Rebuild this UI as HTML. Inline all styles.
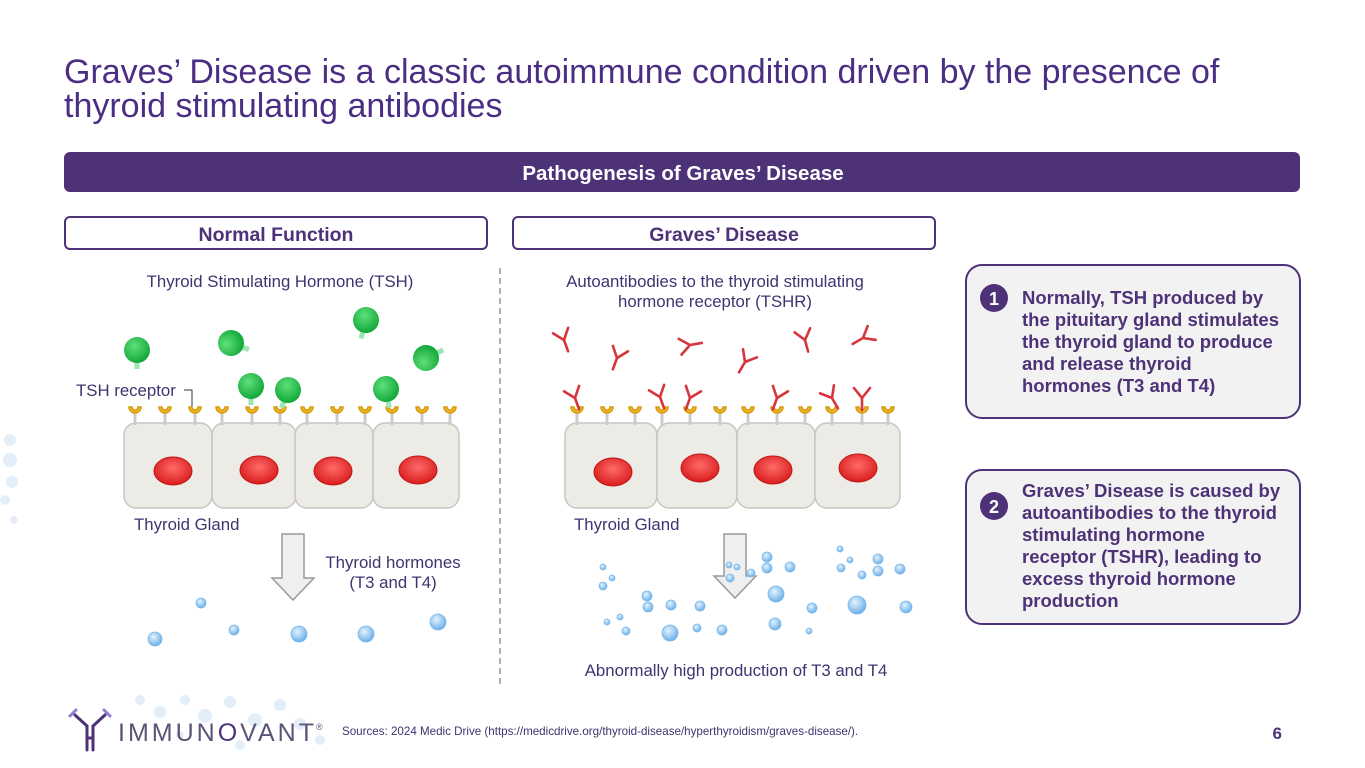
<!DOCTYPE html>
<html><head><meta charset="utf-8"><style>
body{margin:0;background:#fff}
svg{display:block;font-family:"Liberation Sans",Arial,sans-serif}
</style></head><body>
<svg width="1365" height="768" viewBox="0 0 1365 768" xmlns="http://www.w3.org/2000/svg">
<defs>
<radialGradient id="g" cx="40%" cy="35%" r="65%"><stop offset="0" stop-color="#5fe07a"/><stop offset="1" stop-color="#13a83a"/></radialGradient>
<radialGradient id="n" cx="50%" cy="40%" r="60%"><stop offset="0" stop-color="#ff6a6a"/><stop offset="1" stop-color="#d91c1c"/></radialGradient>
<radialGradient id="b" cx="40%" cy="35%" r="65%"><stop offset="0" stop-color="#e4f3ff"/><stop offset="1" stop-color="#6cb0e8"/></radialGradient>
<g id="rec"><line x1="0" y1="0" x2="0" y2="12" stroke="#ccc" stroke-width="3"/><path d="M-6,-6 A6,6 0 0 0 6,-6 L3,-6 A3,3 0 0 1 -3,-6 Z" fill="#f0b820" stroke="#d89a10" stroke-width="1.5"/></g>
<g id="tsh"><rect x="-2.5" y="6" width="5" height="13" fill="#9be6b5"/><circle r="13" fill="url(#g)"/></g>
<g id="ab" stroke="#d8343c" stroke-width="2.6" fill="none" stroke-linecap="round"><path d="M0,12 L0,0 M0,0 L-8,-10 M0,0 L8,-10"/></g>
</defs>
<g fill="#e3eef8">
<circle cx="10" cy="440" r="6"/><circle cx="10" cy="460" r="7"/><circle cx="12" cy="482" r="6"/><circle cx="5" cy="500" r="5"/><circle cx="14" cy="520" r="4"/>
<circle cx="140" cy="700" r="5"/><circle cx="160" cy="712" r="6"/><circle cx="185" cy="700" r="5"/><circle cx="205" cy="716" r="7"/><circle cx="230" cy="702" r="6"/><circle cx="255" cy="720" r="7"/><circle cx="280" cy="705" r="6"/><circle cx="300" cy="724" r="6"/><circle cx="320" cy="740" r="5"/><circle cx="180" cy="735" r="4"/><circle cx="240" cy="745" r="5"/>
</g>
<text x="64" y="83" font-size="34" fill="#4b2e83">Graves’ Disease is a classic autoimmune condition driven by the presence of</text>
<text x="64" y="117" font-size="34" fill="#4b2e83">thyroid stimulating antibodies</text>
<rect x="64" y="152" width="1236" height="40" rx="6" fill="#4e3278"/>
<text x="683" y="180" font-size="20.5" font-weight="bold" fill="#fff" text-anchor="middle">Pathogenesis of Graves’ Disease</text>
<rect x="65" y="217" width="422" height="32" rx="5" fill="#fff" stroke="#4e3278" stroke-width="2"/>
<text x="276" y="241" font-size="19.5" font-weight="bold" fill="#4e3278" text-anchor="middle">Normal Function</text>
<rect x="513" y="217" width="422" height="32" rx="5" fill="#fff" stroke="#4e3278" stroke-width="2"/>
<text x="724" y="241" font-size="19.5" font-weight="bold" fill="#4e3278" text-anchor="middle">Graves’ Disease</text>
<line x1="500" y1="268" x2="500" y2="686" stroke="#999" stroke-width="1.5" stroke-dasharray="6,4"/>
<g font-size="16.8" fill="#3e3470">
<text x="280" y="287" text-anchor="middle">Thyroid Stimulating Hormone (TSH)</text>
<text x="76" y="396">TSH receptor</text>
<text x="134" y="530">Thyroid Gland</text>
<text x="393" y="568" text-anchor="middle">Thyroid hormones</text>
<text x="393" y="588" text-anchor="middle">(T3 and T4)</text>
<text x="715" y="287" text-anchor="middle">Autoantibodies to the thyroid stimulating</text>
<text x="715" y="307" text-anchor="middle">hormone receptor (TSHR)</text>
<text x="574" y="530">Thyroid Gland</text>
<text x="736" y="676" text-anchor="middle">Abnormally high production of T3 and T4</text>
</g>
<path d="M184,390 L192,390 L192,410" stroke="#333" fill="none" stroke-width="1"/>
<g fill="#ecebe6" stroke="#c8c6bf" stroke-width="1.5">
<rect x="124" y="423" width="88" height="85" rx="12"/><rect x="212" y="423" width="84" height="85" rx="12"/><rect x="295" y="423" width="78" height="85" rx="12"/><rect x="373" y="423" width="86" height="85" rx="12"/>
<rect x="565" y="423" width="92" height="85" rx="12"/><rect x="657" y="423" width="80" height="85" rx="12"/><rect x="737" y="423" width="78" height="85" rx="12"/><rect x="815" y="423" width="85" height="85" rx="12"/>
</g>
<g fill="url(#n)" stroke="#c01515">
<ellipse cx="173" cy="471" rx="19" ry="14"/><ellipse cx="259" cy="470" rx="19" ry="14"/><ellipse cx="333" cy="471" rx="19" ry="14"/><ellipse cx="418" cy="470" rx="19" ry="14"/>
<ellipse cx="613" cy="472" rx="19" ry="14"/><ellipse cx="700" cy="468" rx="19" ry="14"/><ellipse cx="773" cy="470" rx="19" ry="14"/><ellipse cx="858" cy="468" rx="19" ry="14"/>
</g>
<g>
<use href="#rec" x="135" y="413"/><use href="#rec" x="165" y="413"/><use href="#rec" x="195" y="413"/><use href="#rec" x="222" y="413"/><use href="#rec" x="252" y="413"/><use href="#rec" x="280" y="413"/><use href="#rec" x="307" y="413"/><use href="#rec" x="337" y="413"/><use href="#rec" x="365" y="413"/><use href="#rec" x="392" y="413"/><use href="#rec" x="422" y="413"/><use href="#rec" x="450" y="413"/>
<use href="#rec" x="577" y="413"/><use href="#rec" x="607" y="413"/><use href="#rec" x="635" y="413"/><use href="#rec" x="662" y="413"/><use href="#rec" x="690" y="413"/><use href="#rec" x="720" y="413"/><use href="#rec" x="748" y="413"/><use href="#rec" x="777" y="413"/><use href="#rec" x="805" y="413"/><use href="#rec" x="832" y="413"/><use href="#rec" x="862" y="413"/><use href="#rec" x="888" y="413"/>
</g>
<use href="#tsh" transform="translate(137,350)"/>
<use href="#tsh" transform="translate(231,343) rotate(-70)"/>
<use href="#tsh" transform="translate(366,320) rotate(15)"/>
<use href="#tsh" transform="translate(426,358) rotate(-115)"/>
<use href="#tsh" transform="translate(251,386)"/>
<use href="#tsh" transform="translate(288,390) rotate(20)"/>
<use href="#tsh" transform="translate(386,389) rotate(-10)"/>
<use href="#ab" transform="translate(564,340) rotate(-20)"/>
<use href="#ab" transform="translate(617,358) rotate(20)"/>
<use href="#ab" transform="translate(690,345) rotate(-100)"/>
<use href="#ab" transform="translate(745,362) rotate(30)"/>
<use href="#ab" transform="translate(805,340) rotate(-15)"/>
<use href="#ab" transform="translate(863,338) rotate(60)"/>
<use href="#ab" transform="translate(575,398) rotate(-20)"/>
<use href="#ab" transform="translate(660,397) rotate(-20)"/>
<use href="#ab" transform="translate(690,398) rotate(20)"/>
<use href="#ab" transform="translate(777,398) rotate(20)"/>
<use href="#ab" transform="translate(832,398) rotate(-30)"/>
<use href="#ab" transform="translate(862,398)"/>
<g fill="#efefef" stroke="#9a9a9a" stroke-width="1.5">
<path d="M282,534 L304,534 L304,578 L314,578 L293,600 L272,578 L282,578 Z"/>
<path d="M724,534 L746,534 L746,576 L756,576 L735,598 L714,576 L724,576 Z"/>
</g>
<g fill="url(#b)" stroke="#7ab8ea" stroke-width="0.8">
<circle cx="201" cy="603" r="5"/><circle cx="155" cy="639" r="7"/><circle cx="234" cy="630" r="5"/><circle cx="299" cy="634" r="8"/><circle cx="366" cy="634" r="8"/><circle cx="438" cy="622" r="8"/>
<circle cx="603" cy="567" r="3"/><circle cx="612" cy="578" r="3"/><circle cx="603" cy="586" r="4"/><circle cx="647" cy="596" r="5"/><circle cx="648" cy="607" r="5"/><circle cx="671" cy="605" r="5"/><circle cx="700" cy="606" r="5"/><circle cx="607" cy="622" r="3"/><circle cx="620" cy="617" r="3"/><circle cx="626" cy="631" r="4"/><circle cx="670" cy="633" r="8"/><circle cx="697" cy="628" r="4"/><circle cx="722" cy="630" r="5"/>
<circle cx="729" cy="565" r="3"/><circle cx="737" cy="567" r="3"/><circle cx="730" cy="578" r="4"/><circle cx="751" cy="573" r="4"/><circle cx="767" cy="557" r="5"/><circle cx="767" cy="568" r="5"/><circle cx="790" cy="567" r="5"/><circle cx="776" cy="594" r="8"/><circle cx="812" cy="608" r="5"/><circle cx="775" cy="624" r="6"/><circle cx="809" cy="631" r="3"/>
<circle cx="840" cy="549" r="3"/><circle cx="850" cy="560" r="3"/><circle cx="841" cy="568" r="4"/><circle cx="862" cy="575" r="4"/><circle cx="878" cy="559" r="5"/><circle cx="878" cy="571" r="5"/><circle cx="900" cy="569" r="5"/><circle cx="857" cy="605" r="9"/><circle cx="906" cy="607" r="6"/>
</g>
<rect x="966" y="265" width="334" height="153" rx="16" fill="#f2f2f2" stroke="#4e3278" stroke-width="2"/>
<circle cx="994" cy="298" r="14" fill="#4e3278"/><text x="994" y="305" font-size="18" font-weight="bold" fill="#fff" text-anchor="middle">1</text>
<g font-size="18.5" font-weight="bold" fill="#4e3278">
<text x="1022" y="304">Normally, TSH produced by</text><text x="1022" y="326">the pituitary gland stimulates</text><text x="1022" y="348">the thyroid gland to produce</text><text x="1022" y="370">and release thyroid</text><text x="1022" y="392">hormones (T3 and T4)</text>
</g>
<rect x="966" y="470" width="334" height="154" rx="16" fill="#f2f2f2" stroke="#4e3278" stroke-width="2"/>
<circle cx="994" cy="506" r="14" fill="#4e3278"/><text x="994" y="513" font-size="18" font-weight="bold" fill="#fff" text-anchor="middle">2</text>
<g font-size="18.5" font-weight="bold" fill="#4e3278">
<text x="1022" y="497">Graves’ Disease is caused by</text><text x="1022" y="519">autoantibodies to the thyroid</text><text x="1022" y="541">stimulating hormone</text><text x="1022" y="563">receptor (TSHR), leading to</text><text x="1022" y="585">excess thyroid hormone</text><text x="1022" y="607">production</text>
</g>
<g stroke="#4e3278" stroke-width="3" fill="none" stroke-linecap="round">
<line x1="87" y1="726" x2="87" y2="750"/><line x1="93" y1="726" x2="93" y2="750"/><line x1="87" y1="738" x2="93" y2="738"/>
<path d="M87,726 L75,715 M93,726 L105,715"/>
</g>
<g stroke="#8a7fd0" stroke-width="3" stroke-linecap="round"><line x1="70" y1="716" x2="76" y2="710"/><line x1="110" y1="716" x2="104" y2="710"/></g>
<text x="118" y="741" font-size="25" fill="#5b5478" letter-spacing="3">IMMUN<tspan fill="#4e3278">O</tspan>VANT</text>
<text x="316" y="730" font-size="9" fill="#5b5478">®</text>
<text x="342" y="735" font-size="11.6" fill="#3e3470">Sources: 2024 Medic Drive (https://medicdrive.org/thyroid-disease/hyperthyroidism/graves-disease/).</text>
<text x="1282" y="739" font-size="17" font-weight="bold" fill="#4e3278" text-anchor="end">6</text>
</svg>
</body></html>
